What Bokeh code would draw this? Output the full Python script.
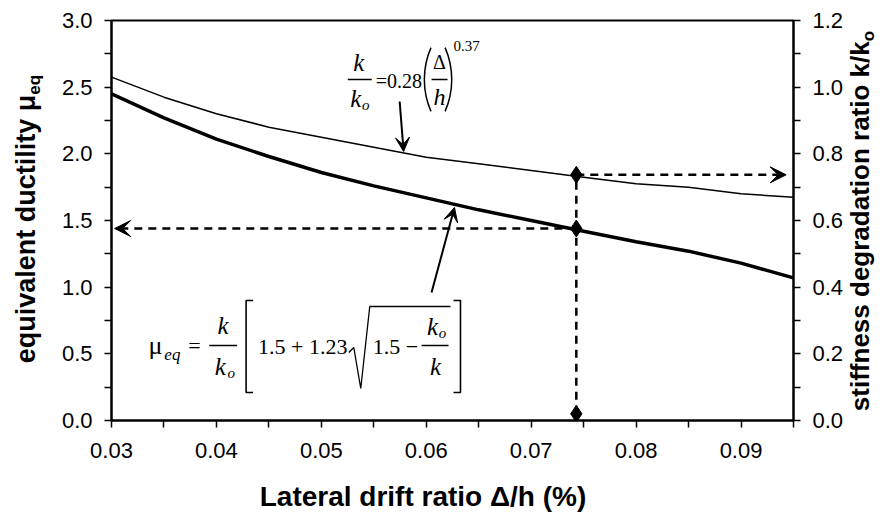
import math
from bokeh.plotting import figure
from bokeh.models import (Range1d, LinearAxis, FixedTicker, NumeralTickFormatter,
                          Label, Arrow, VeeHead, ColumnDataSource, Div)
from bokeh.layouts import row, column
from bokeh.embed import file_html
from bokeh.resources import INLINE

# ---------------- data ----------------
drift = [0.030, 0.035, 0.040, 0.045, 0.050, 0.055, 0.060, 0.065,
         0.070, 0.075, 0.080, 0.085, 0.090, 0.095]
mu_eq = [2.45, 2.27, 2.11, 1.98, 1.86, 1.76, 1.67, 1.58,
         1.50, 1.42, 1.34, 1.27, 1.18, 1.07]
k_ratio = [1.03, 0.97, 0.92, 0.88, 0.85, 0.82, 0.79, 0.77,
           0.75, 0.73, 0.71, 0.70, 0.68, 0.67]

sel_drift = 0.0743   # selected drift ratio
sel_mu = 1.44        # equivalent ductility at selected drift
sel_k = 0.737        # stiffness ratio at selected drift
base_k = 0.02        # marker on the drift axis (right-axis units)

x_ticks = [0.03, 0.04, 0.05, 0.06, 0.07, 0.08, 0.09]
y_left_ticks = [0.0, 0.5, 1.0, 1.5, 2.0, 2.5, 3.0]
y_right_ticks = [0.0, 0.2, 0.4, 0.6, 0.8, 1.0, 1.2]

x_title = "Lateral drift ratio Δ/h (%)"
yl_title = "equivalent ductility μ"
yl_sub = "eq"
yr_title = "stiffness degradation ratio k/k"
yr_sub = "o"

X0, X1 = 0.03, 0.095
YL0, YL1 = 0.0, 3.0
YR0, YR1 = 0.0, 1.2

# ---------------- layout geometry (page pixels) ----------------
LEFT_W = 56
FIG_W = 790
RIGHT_W = 32
FIG_H = 465
BOTTOM_H = 42
FX0, FX1, FY0, FY1 = 111, 795, 420, 20    # frame edges in page pixels

p = figure(width=FIG_W, height=FIG_H, output_backend="svg", toolbar_location=None,
           x_range=Range1d(X0, X1), y_range=Range1d(YL0, YL1),
           min_border_left=FX0 - LEFT_W, min_border_right=LEFT_W + FIG_W - FX1,
           min_border_top=FY1, min_border_bottom=FIG_H - FY0)
p.extra_y_ranges = {"k": Range1d(YR0, YR1)}
p.grid.visible = False
p.outline_line_color = "black"
p.outline_line_width = 2
p.background_fill_color = "white"
p.border_fill_color = "white"

tick_font = "Liberation Sans"
def style_axis(ax, standoff):
    ax.axis_line_width = 2
    ax.axis_line_color = "black"
    ax.major_tick_line_color = "black"
    ax.minor_tick_line_color = "black"
    ax.major_tick_line_width = 1.5
    ax.minor_tick_line_width = 1.5
    ax.major_tick_out = 7
    ax.major_tick_in = 0
    ax.minor_tick_out = 7
    ax.minor_tick_in = 0
    ax.major_label_text_font = tick_font
    ax.major_label_text_font_size = "22px"
    ax.major_label_text_color = "black"
    ax.major_label_standoff = standoff

xa = p.xaxis[0]
xa.ticker = FixedTicker(ticks=x_ticks, minor_ticks=[t + 0.005 for t in x_ticks])
xa.formatter = NumeralTickFormatter(format="0.00")
style_axis(xa, 15)

ya = p.yaxis[0]
ya.ticker = FixedTicker(ticks=y_left_ticks,
                        minor_ticks=[t + 0.25 for t in y_left_ticks[:-1]])
ya.formatter = NumeralTickFormatter(format="0.0")
style_axis(ya, 12)

yr = LinearAxis(y_range_name="k")
yr.ticker = FixedTicker(ticks=y_right_ticks,
                        minor_ticks=[t + 0.1 for t in y_right_ticks[:-1]])
yr.formatter = NumeralTickFormatter(format="0.0")
style_axis(yr, 12)
p.add_layout(yr, "right")

# ---------------- data lines ----------------
src = ColumnDataSource(dict(x=drift, mu=mu_eq, k=k_ratio))
p.line("x", "mu", source=src, line_color="black", line_width=3.5)
p.line("x", "k", source=src, line_color="black", line_width=1.5, y_range_name="k")

p.line([sel_drift, sel_drift], [base_k, sel_k], y_range_name="k",
       line_color="black", line_width=2.5, line_dash="8 6")
p.add_layout(Arrow(x_start=sel_drift, y_start=sel_mu, x_end=X0 + 0.0003, y_end=sel_mu,
                   line_color="black", line_width=2.5, line_dash="8 6",
                   end=VeeHead(size=16, fill_color="black", line_color="black")))
p.add_layout(Arrow(x_start=sel_drift, y_start=sel_k, x_end=X1 - 0.0007, y_end=sel_k,
                   y_range_name="k",
                   line_color="black", line_width=2.5, line_dash="8 6",
                   end=VeeHead(size=16, fill_color="black", line_color="black")))

p.scatter([sel_drift], [sel_mu], marker="diamond", size=17, color="black")
p.scatter([sel_drift, sel_drift], [sel_k, base_k], marker="diamond", size=17,
          color="black", y_range_name="k")

# ---------------- equation annotations (positions in page pixels) ----------------
def ax_(px):
    return X0 + (px - FX0) * (X1 - X0) / (FX1 - FX0)
def ay_(py):
    return YL0 + (FY0 - py) * (YL1 - YL0) / (FY0 - FY1)

SERIF = "Liberation Serif"
def txt(px, py, s, size=22, style="normal", align="center"):
    p.add_layout(Label(x=ax_(px), y=ay_(py), text=s, text_font=SERIF,
                       text_font_size=f"{size}px", text_font_style=style,
                       text_align=align, text_baseline="middle", text_color="black"))

def poly(pts, w=1.3):
    p.line([ax_(a) for a, b in pts], [ay_(b) for a, b in pts],
           line_color="black", line_width=w)

def paren(px_edge, py, left=True, r=80, half_deg=23.5):
    th = math.radians(half_deg)
    if left:
        cx, a0, a1 = px_edge + r, math.pi - th, math.pi + th
    else:
        cx, a0, a1 = px_edge - r, -th, th
    p.arc(x=[ax_(cx)], y=[ay_(py)], radius=r, radius_units="screen",
          start_angle=a0, end_angle=a1, line_color="black", line_width=1.5)

# formula 1:  k/ko = 0.28 (Δ/h)^0.37
txt(359, 62, "k", 25, "italic")
poly([(348, 79), (372, 79)])
txt(356, 98, "k", 25, "italic")
txt(366, 104, "o", 15, "italic")
txt(376, 80, "=0.28", 20, align="left")
paren(425, 79, left=True)
txt(440, 61, "Δ", 20)
poly([(432, 79), (448, 79)])
txt(440, 96, "h", 24, "italic")
paren(452, 79, left=False)
txt(454, 45, "0.37", 15, align="left")

# formula 2:  μeq = k/ko [1.5 + 1.23 √(1.5 − ko/k)]
txt(148, 345, "μ", 26, align="left")
txt(164, 354, "eq", 17, "italic", align="left")
txt(188, 345, "=", 22, align="left")
txt(223, 325, "k", 25, "italic")
poly([(209, 345), (237, 345)])
txt(220, 366, "k", 25, "italic")
txt(231, 372, "o", 15, "italic")
poly([(253, 300), (246, 300), (246, 392), (253, 392)], 1.6)
txt(258, 346, "1.5 + 1.23", 22, align="left")
poly([(349, 352), (354, 347), (361, 388), (370, 306), (451, 306)])
txt(373, 346, "1.5 −", 22, align="left")
txt(433, 326, "k", 25, "italic")
txt(443, 332, "o", 15, "italic")
poly([(422, 345), (449, 345)])
txt(436, 366, "k", 25, "italic")
poly([(454, 300), (461, 300), (461, 392), (454, 392)], 1.6)

# pointer arrows
p.add_layout(Arrow(x_start=ax_(400), y_start=ay_(101), x_end=ax_(404), y_end=ay_(151),
                   line_color="black", line_width=2,
                   end=VeeHead(size=14, fill_color="black", line_color="black")))
p.add_layout(Arrow(x_start=ax_(432), y_start=ay_(292), x_end=ax_(455), y_end=ay_(207),
                   line_color="black", line_width=2,
                   end=VeeHead(size=14, fill_color="black", line_color="black")))

# ---------------- axis titles (HTML text, with subscripts) ----------------
def title_div(html, w, h, cx, cy, rotate, size):
    tr = "translate(-50%,-50%)" + (" rotate(-90deg)" if rotate else "")
    inner = (f'<div style="position:relative;width:{w}px;height:{h}px;overflow:visible;">'
             f'<div style="position:absolute;left:{cx}px;top:{cy}px;transform:{tr};'
             f"white-space:nowrap;font-family:'Liberation Sans';font-weight:bold;"
             f'font-size:{size}px;line-height:1;color:black;">{html}</div></div>')
    return Div(text=inner, width=w, height=h, margin=0)

sub = '<span style="font-size:17px;vertical-align:-0.3em;">{}</span>'
left_div = title_div(yl_title + sub.format(yl_sub), LEFT_W, FIG_H, 28, 219, True, 27)
right_div = title_div(yr_title + sub.format(yr_sub), RIGHT_W, FIG_H, 862 - LEFT_W - FIG_W,
                      221, True, 26)
bottom_div = title_div(x_title, LEFT_W + FIG_W + RIGHT_W, BOTTOM_H, 423, 497 - FIG_H,
                       False, 28)

layout = column(row(left_div, p, right_div, spacing=0), bottom_div, spacing=0)
open("out.html", "w").write(file_html(layout, INLINE))
